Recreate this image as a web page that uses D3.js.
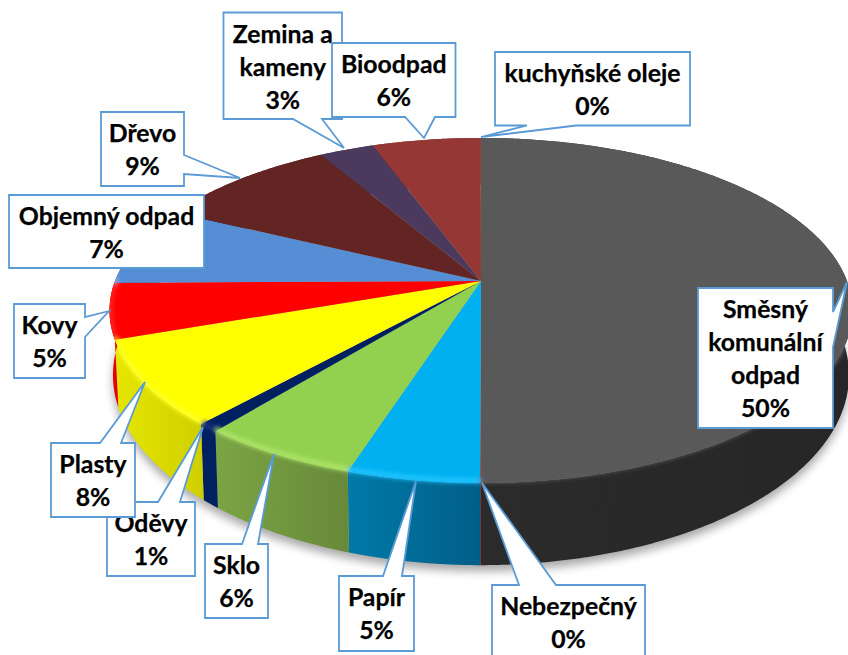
<!DOCTYPE html>
<html><head><meta charset="utf-8">
<script src="https://cdn.jsdelivr.net/npm/d3@7"></script>
<style>html,body{margin:0;padding:0;background:#fff}svg{display:block}
text{font-family:Lato,"Open Sans",sans-serif;font-weight:700;font-size:24.8px;fill:#000;stroke:#000;stroke-width:.25;text-anchor:middle}</style>
</head><body><svg id="c" width="848" height="655"></svg>
<script>
// ---- data, clockwise from 12 o'clock ----
const categories = ["Směsný komunální odpad","Nebezpečný","Papír","Sklo","Oděvy","Plasty","Kovy","Objemný odpad","Dřevo","Zemina a kameny","Bioodpad","kuchyňské oleje"];
const values = [50,0.03,4.9,5.9,0.8,8.0,5.2,7.4,9.4,2.8,5.55,0.02];
// ---- styles ----
const topColors  = ["#595959","#a82a2e","#00b0f0","#92d050","#002060","#ffff00","#ff0000","#558ed5","#632523","#4b3a5e","#953735","#953735"];
const sideLight  = ["#2b2b2b","#7a2024","#007aa8","#7ba544","#002060","#e6e600","#f00000","#4a7cc0","#4a1c1a","#3a2c49","#702927","#702927"];
const sideDark   = ["#262626","#7a2024","#005f88","#67893a","#002060","#cfcf00","#e00000","#4a7cc0","#4a1c1a","#3a2c49","#702927","#702927"];
const bevelColors= ["#5a5a5a","#a82a2e","#20c4ff","#aee468","#14337a","#ffff28","#ff2020","#78aaf0","#632523","#4b3a5e","#953735","#953735"];
// ---- layout of the picture ----
const persp = 0.171;
const topRim = {cx:481, cy:281, A:366, B:167.5};
const bevelRim = {cx:481, cy:281, A:365, B:165.5};
const baseRim = {cx:481, cy:342.6, A:362.6, B:184.5};
// callouts in painting order: box [x0,y0,x1,y1], side the pointer leaves from, base [from,to], tip [x,y]
const callouts = [
 {i:9, box:[223.5,12.5,342,119], side:"b", base:[293,322], tip:[344,148], lines:["Zemina a","kameny"]},
 {i:10,box:[332,43,455.5,117], side:"b", base:[405,435], tip:[424,138], lines:["Bioodpad"]},
 {i:11,box:[495,52,690,125.5], side:"b", base:[527,576], tip:[481,137], lines:["kuchyňské oleje"]},
 {i:8, box:[101,112,184,186], side:"r", base:[155,174], tip:[240,178], lines:["Dřevo"]},
 {i:7, box:[9,195,204,268], side:null, lines:["Objemný odpad"]},
 {i:6, box:[14,304,85,378], side:"r", base:[317,337], tip:[109,311], lines:["Kovy"]},
 {i:4, box:[107,502,195,576], side:"t", base:[158,180], tip:[203,427], lines:["Oděvy"]},
 {i:5, box:[51,443,135,517], side:"t", base:[100,121], tip:[145,382], lines:["Plasty"]},
 {i:3, box:[205,544,268,618], side:"t", base:[242,258], tip:[274,454], lines:["Sklo"]},
 {i:2, box:[339,576,414,651], side:"t", base:[383,402], tip:[416,481], lines:["Papír"]},
 {i:1, box:[492,585,645,662], side:"t", base:[519,556], tip:[482,483], lines:["Nebezpečný"]},
 {i:0, box:[698,288,833,428], side:"r", base:[312,347], tip:[847,282], lines:["Směsný","komunální","odpad"]},
];
const lineGap = 33, firstBaseline = 30;

const svg = d3.select("#c");
const defs = svg.append("defs");
defs.append("filter").attr("id","soft").attr("x","-20%").attr("y","-20%").attr("width","140%").attr("height","140%")
  .append("feGaussianBlur").attr("stdDeviation",5);
defs.append("filter").attr("id","bev").attr("x","-20%").attr("y","-20%").attr("width","140%").attr("height","140%")
  .append("feGaussianBlur").attr("stdDeviation",2.2);

function projector(r){
  const x = d3.scaleLinear().domain([-1,1]).range([r.cx-r.A,r.cx+r.A]);
  const y = d3.scaleLinear().domain([-1,1]).range([r.cy-r.B,r.cy+r.B]);
  return a=>{const u=Math.sin(a),v=-Math.cos(a),w=1-persp*v;return [x(u/w),y(v/w)];};
}
const pTop = projector(topRim), pBase = projector(baseRim), pBevel = projector(bevelRim);
const arcs = d3.pie().sort(null).value(d=>d)(values);
const line = d3.line();
const steps = (a,b)=>{const n=Math.max(2,Math.ceil((b-a)/0.01));return d3.range(n+1).map(i=>a+(b-a)*i/n);};
const gTotal = d3.range(241).map(i=>i/240*2*Math.PI);

// cast shadow
svg.append("path").attr("d",line(gTotal.map(pBase))+"Z").attr("transform","translate(0,6)")
  .attr("fill","#000").attr("opacity",.34).attr("filter","url(#soft)");

// side walls
const walls = svg.append("g");
arcs.forEach((d,i)=>{
  const as = steps(d.startAngle,d.endAngle);
  const t = as.map(pTop), b = as.map(pBase).reverse();
  const xs = t.concat(b).map(p=>p[0]);
  const g = defs.append("linearGradient").attr("id","w"+i).attr("gradientUnits","userSpaceOnUse")
    .attr("x1",d3.min(xs)).attr("x2",d3.max(xs)).attr("y1",0).attr("y2",0);
  g.append("stop").attr("offset",0).attr("stop-color",sideLight[i]);
  g.append("stop").attr("offset",1).attr("stop-color",sideDark[i]);
  walls.append("path").attr("d",line(t.concat(b))+"Z").attr("fill",`url(#w${i})`);
});

// top surface
const tops = svg.append("g");
arcs.forEach((d,i)=>{
  const pts = [[topRim.cx,topRim.cy]].concat(steps(d.startAngle,d.endAngle).map(pTop));
  tops.append("path").attr("d",line(pts)+"Z").attr("fill",topColors[i]);
});

// rounded rim highlight on the front half
const clip = defs.append("clipPath").attr("id","body");
clip.append("path").attr("d",line(gTotal.map(pTop))+"Z");
clip.append("path").attr("d",line(gTotal.map(pBase))+"Z");
const bevel = svg.append("g").attr("clip-path","url(#body)").append("g").attr("filter","url(#bev)");
arcs.forEach((d,i)=>{
  const as = steps(d.startAngle,d.endAngle).filter(a=>-Math.cos(a)>=-0.02);
  if(as.length<2) return;
  bevel.append("path").attr("d",line(as.map(pBevel))).attr("fill","none")
    .attr("stroke",bevelColors[i]).attr("stroke-width",5);
});

// callouts
const labels = svg.append("g");
callouts.forEach(c=>{
  const [x0,y0,x1,y1]=c.box; let p=[[x0,y0]];
  if(c.side==="r") p=p.concat([[x1,y0],[x1,c.base[0]],c.tip,[x1,c.base[1]],[x1,y1],[x0,y1]]);
  else if(c.side==="b") p=p.concat([[x1,y0],[x1,y1],[c.base[1],y1],c.tip,[c.base[0],y1],[x0,y1]]);
  else if(c.side==="t") p=p.concat([[c.base[0],y0],c.tip,[c.base[1],y0],[x1,y0],[x1,y1],[x0,y1]]);
  else p=p.concat([[x1,y0],[x1,y1],[x0,y1]]);
  const g=labels.append("g");
  g.append("path").attr("d",line(p)+"Z").attr("fill","#fff").attr("stroke","#5b9bd5").attr("stroke-width",1.8).attr("stroke-linejoin","miter");
  const rows=c.lines.concat([Math.round(values[c.i])+"%"]);
  rows.forEach((s,j)=>g.append("text").attr("x",(x0+x1)/2).attr("y",y0+firstBaseline+j*lineGap).text(s));
});
</script></body></html>
